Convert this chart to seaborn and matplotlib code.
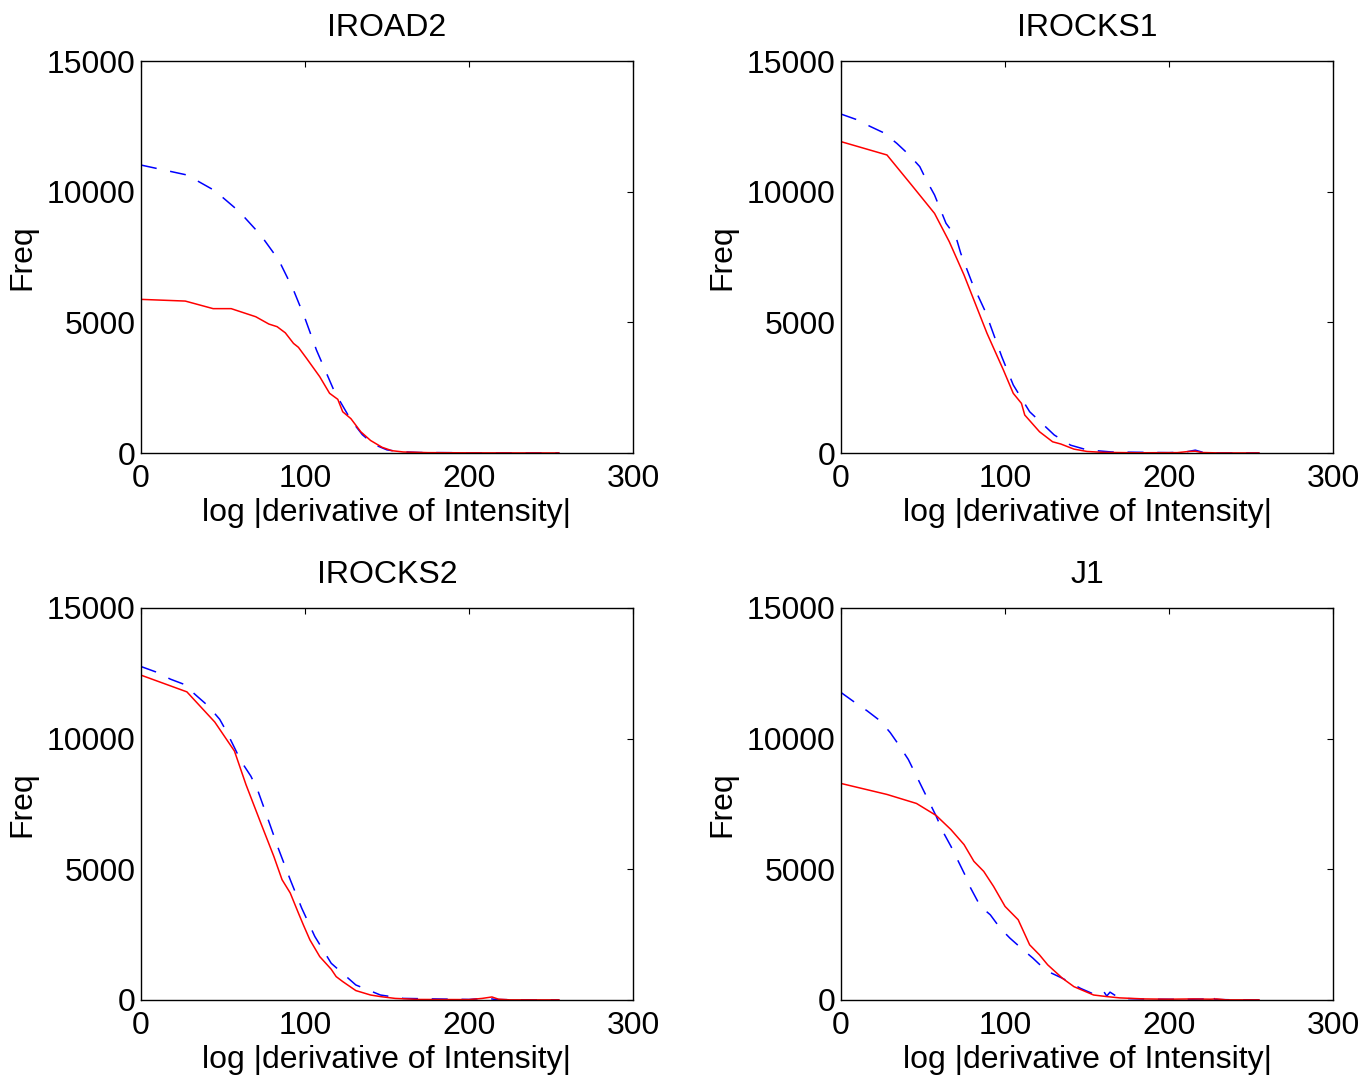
import matplotlib
matplotlib.use("Agg")
import matplotlib.pyplot as plt
import seaborn as sns

# IROAD2
iroad2_red_x = [0, 27, 44, 55, 70, 78, 83, 88, 93, 96, 101, 109, 115, 120, 123, 128, 134, 140, 147, 153, 160, 175, 200, 230, 255]
iroad2_red_y = [5880, 5815, 5525, 5525, 5215, 4935, 4835, 4600, 4195, 4045, 3620, 2920, 2285, 2055, 1580, 1315, 815, 480, 220, 90, 40, 15, 8, 5, 3]
iroad2_blue_x = [0, 28, 45, 60, 73, 84, 93, 100, 107, 118, 128, 135, 142, 150, 158, 170, 200, 230, 255]
iroad2_blue_y = [11020, 10640, 10040, 9235, 8340, 7385, 6235, 5155, 3940, 2345, 1265, 700, 330, 120, 50, 20, 10, 5, 3]

# IROCKS1
irocks1_red_x = [0, 28, 43, 57, 66, 75, 81, 89, 99, 105, 110, 112, 121, 129, 134, 142, 150, 160, 180, 205, 212, 216, 220, 230, 255]
irocks1_red_y = [11915, 11405, 10255, 9170, 8085, 6810, 5855, 4580, 3175, 2285, 1900, 1455, 815, 430, 345, 150, 60, 25, 10, 15, 60, 70, 20, 5, 3]
irocks1_blue_x = [0, 9, 18, 26, 34, 41, 48, 52, 57, 64, 70, 73, 80, 88, 98, 105, 115, 130, 140, 150, 165, 200, 210, 216, 221, 230, 255]
irocks1_blue_y = [12970, 12770, 12490, 12255, 11850, 11440, 10960, 10445, 9875, 8790, 8280, 7640, 6495, 5410, 3685, 2605, 1580, 690, 300, 120, 40, 15, 40, 110, 20, 5, 3]

# IROCKS2
irocks2_red_x = [0, 28, 45, 57, 64, 73, 81, 86, 91, 96, 99, 103, 109, 116, 119, 123, 131, 140, 146, 155, 170, 200, 208, 214, 218, 225, 255]
irocks2_red_y = [12430, 11790, 10635, 9525, 8245, 6780, 5495, 4605, 4095, 3325, 2875, 2300, 1660, 1175, 895, 705, 360, 190, 130, 60, 20, 15, 60, 115, 30, 5, 3]
irocks2_blue_x = [0, 9, 18, 26, 34, 41, 48, 52, 57, 61, 67, 71, 75, 84, 91, 98, 106, 116, 131, 146, 160, 200, 211, 216, 230, 255]
irocks2_blue_y = [12760, 12555, 12275, 12085, 11635, 11250, 10740, 10290, 9655, 9140, 8565, 8055, 7355, 5755, 4605, 3515, 2430, 1405, 575, 190, 60, 20, 70, 20, 5, 3]

# J1
j1_red_x = [0, 28, 46, 58, 67, 75, 81, 87, 93, 100, 108, 115, 121, 126, 135, 142, 154, 162, 170, 185, 200, 215, 225, 229, 235, 255]
j1_red_y = [8285, 7865, 7520, 7060, 6520, 5945, 5305, 4920, 4345, 3580, 3070, 2110, 1725, 1345, 830, 510, 190, 130, 80, 40, 30, 40, 30, 40, 5, 3]
j1_blue_x = [0, 8, 16, 24, 30, 35, 41, 45, 50, 54, 58, 62, 67, 71, 76, 79, 85, 91, 97, 103, 111, 117, 125, 135, 146, 155, 160, 162, 164, 170, 190, 210, 224, 226, 228, 240, 255]
j1_blue_y = [11765, 11405, 11060, 10675, 10230, 9780, 9205, 8695, 8055, 7545, 7035, 6455, 5880, 5370, 4730, 4285, 3580, 3260, 2750, 2365, 1920, 1600, 1125, 830, 445, 200, 340, 150, 300, 60, 30, 25, 40, 190, 20, 5, 3]

titles = ["IROAD2", "IROCKS1", "IROCKS2", "J1"]
red_series = [(iroad2_red_x, iroad2_red_y), (irocks1_red_x, irocks1_red_y),
              (irocks2_red_x, irocks2_red_y), (j1_red_x, j1_red_y)]
blue_series = [(iroad2_blue_x, iroad2_blue_y), (irocks1_blue_x, irocks1_blue_y),
               (irocks2_blue_x, irocks2_blue_y), (j1_blue_x, j1_blue_y)]

sns.set_style("white")
plt.rcParams['font.family'] = ['Liberation Sans', 'DejaVu Sans']
plt.rcParams['font.size'] = 23
plt.rcParams['text.color'] = 'black'
plt.rcParams['axes.labelcolor'] = 'black'
plt.rcParams['axes.titlecolor'] = 'black'

fig = plt.figure(figsize=(13.66, 10.82), dpi=100)
lefts = [0.1032, 0.6157, 0.1032, 0.6157]
bottoms = [0.5813, 0.5813, 0.0758, 0.0758]

for i in range(4):
    ax = fig.add_axes([lefts[i], bottoms[i], 0.3602, 0.3623])
    bx, by = blue_series[i]
    rx, ry = red_series[i]
    sns.lineplot(x=bx, y=by, ax=ax, color='blue', linewidth=1.1,
                 linestyle=(0, (10.5, 9)), sort=False, estimator=None)
    sns.lineplot(x=rx, y=ry, ax=ax, color='red', linewidth=1.1,
                 sort=False, estimator=None)
    ax.set_xlim(0, 300)
    ax.set_ylim(0, 15000)
    ax.set_xticks([0, 100, 200, 300])
    ax.set_yticks([0, 5000, 10000, 15000])
    ax.tick_params(direction='in', length=4.5, width=0.8, top=True, right=True,
                   labelsize=23, colors='black')
    ax.tick_params(axis='x', pad=8)
    ax.tick_params(axis='y', pad=4)
    for s in ax.spines.values():
        s.set_color('black')
        s.set_linewidth(1.0)
    ax.set_title(titles[i], fontsize=23, pad=18)
    ax.set_xlabel("log |derivative of Intensity|", fontsize=23, labelpad=3)
    ax.set_ylabel("Freq", fontsize=23, labelpad=7)

fig.savefig("out.png", dpi=100, facecolor='white')
